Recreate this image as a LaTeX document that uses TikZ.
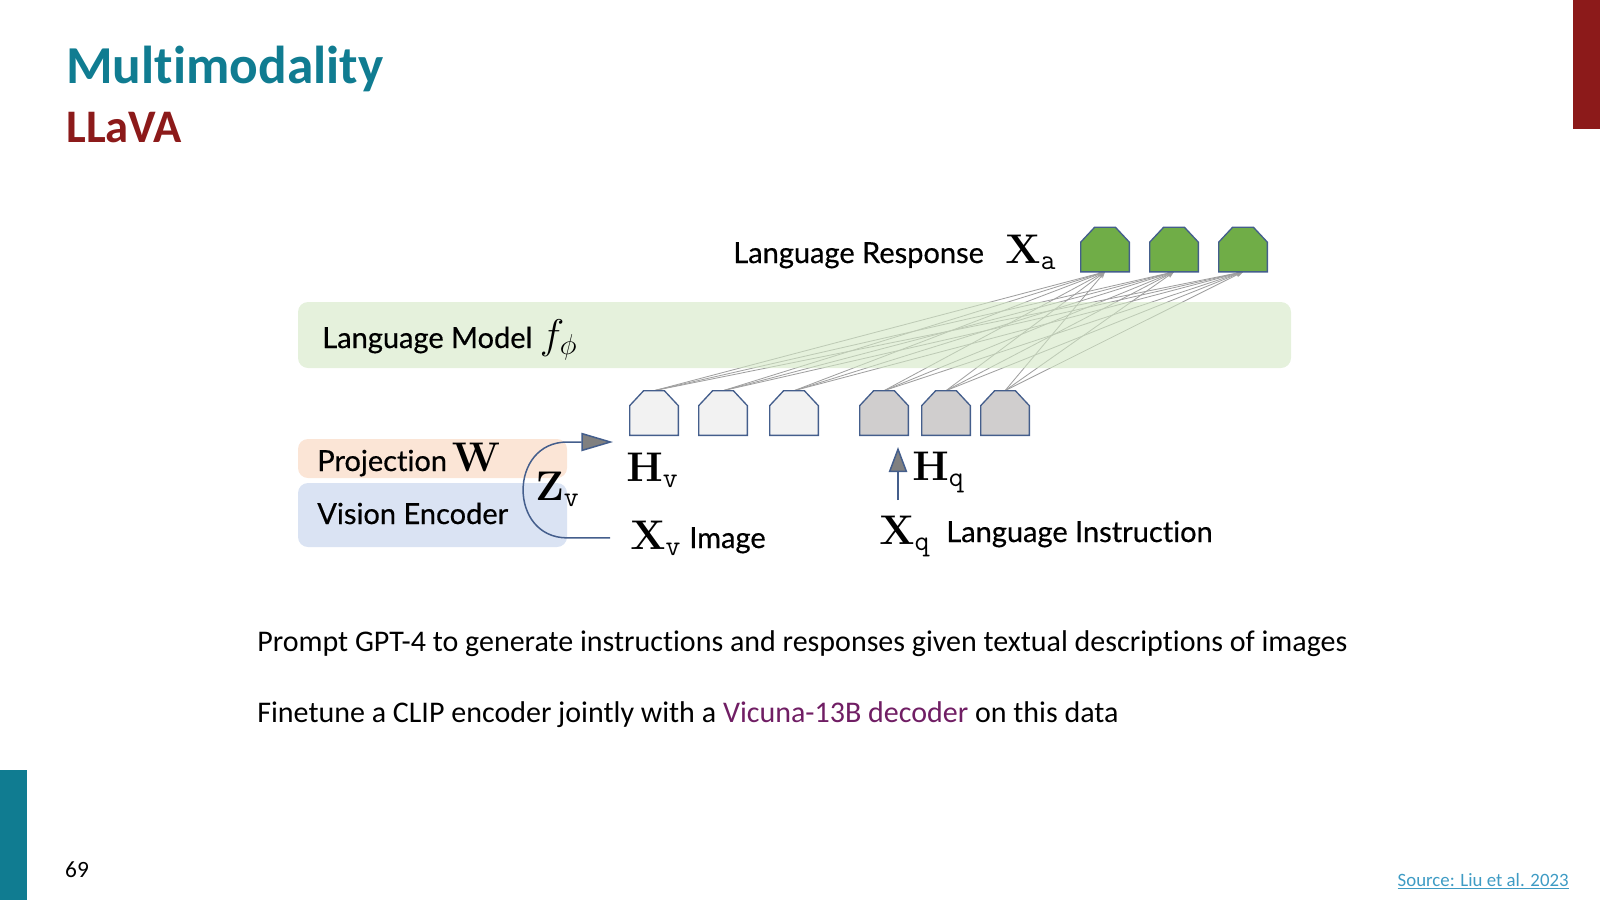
\documentclass[tikz,border=0pt]{standalone}
\usepackage[no-math]{fontspec}
\usepackage{amsmath}
\setmainfont[Ligatures=NoCommon]{Carlito}
\newfontfamily\diagfont[Ligatures=NoCommon, BoldFont=*, BoldFeatures={FakeBold=0.5}]{Lato}
\usetikzlibrary{arrows.meta, positioning, backgrounds}
\definecolor{titleteal}{RGB}{16,124,145}
\definecolor{titlered}{RGB}{140,26,26}
\definecolor{tokedge}{RGB}{68,94,140}
\definecolor{imgfill}{RGB}{242,242,242}
\definecolor{insfill}{RGB}{208,206,206}
\definecolor{resfill}{RGB}{112,173,71}
\definecolor{lmfill}{RGB}{211,232,197}
\definecolor{projfill}{RGB}{251,229,214}
\definecolor{encfill}{RGB}{218,227,243}
\definecolor{vicuna}{RGB}{112,30,100}
\definecolor{srcblue}{RGB}{62,155,196}
\newcommand{\housetok}[2]{% #1=node name #2=fill
  \filldraw[draw=tokedge, fill=#2, line width=0.8pt]
    (#1.south west) -- ([yshift=-9pt]#1.north west) -- ([xshift=8.4pt]#1.north west)
    -- ([xshift=-8.4pt]#1.north east) -- ([yshift=-9pt]#1.north east)
    -- (#1.south east) -- cycle;}

\begin{document}
\begin{tikzpicture}[
  x=0.6pt, y=-0.6pt, >=Stealth,
  tok/.style={minimum width=28.8pt, minimum height=26.4pt, inner sep=0pt},
  dtext/.style={font=\diagfont\bfseries\fontsize{17.4}{21}\selectfont, inner sep=0pt, anchor=base west},
  mathlbl/.style={font=\fontsize{23}{27}\selectfont, inner sep=0pt, anchor=base west},
  attn/.style={-{Stealth[length=4pt,width=3pt]}, gray!75, line width=0.5pt},
  feed/.style={draw=tokedge, line width=0.9pt},
  panel/.style={rounded corners=6pt, inner sep=0pt},
  body/.style={font=\fontsize{18}{22}\selectfont, anchor=base west, inner sep=0pt},
]
\useasboundingbox (0,0) rectangle (1600,900);

% ---------- SLIDE FRAME ----------
\fill[titlered] (1573,0) rectangle (1600,129);
\fill[titleteal] (0,770) rectangle (27,900);
\node[font=\bfseries\fontsize{32}{36}\selectfont, text=titleteal, anchor=base west, inner sep=0pt]
  (title) at (66,83) {Multimodality};
\node[font=\bfseries\fontsize{28}{32}\selectfont, text=titlered, anchor=base west, inner sep=0pt]
  (subtitle) at (66,142) {LLaVA};
\node[font=\fontsize{14}{16}\selectfont, inner sep=0pt] (pagenum) at (77,870) {69};
\node[font=\fontsize{11.3}{13}\selectfont, text=srcblue, anchor=base east, inner sep=0pt]
  (source) at (1569,886) {\underline{Source: Liu et al. 2023}};

% ---------- TOKENS ----------
\foreach \n/\cx in {img1/654,img2/723,img3/794}
  \node[tok] (\n) at (\cx,413) {};
\foreach \n/\cx in {ins1/884,ins2/946,ins3/1005}
  \node[tok] (\n) at (\cx,413) {};
\foreach \n/\cx in {res1/1105,res2/1174,res3/1243}
  \node[tok] (\n) at (\cx,249.5) {};

% ---------- ATTENTION LINES ----------
\foreach \s in {img1,img2,img3,ins1,ins2,ins3}
  \foreach \t in {res1,res2,res3}
    \draw[attn] (\s.north) -- (\t.south);

% ---------- LANGUAGE MODEL ----------
\node[panel, fill=lmfill, fill opacity=0.6, minimum width=595.8pt, minimum height=39.6pt]
  (lm) at (794.5,335) {};
\node[dtext] (lmlabel) at (322,348) {Language Model \fontsize{23}{27}\selectfont$f_{\phi}$};

\foreach \n in {img1,img2,img3} {\housetok{\n}{imgfill}}
\foreach \n in {ins1,ins2,ins3} {\housetok{\n}{insfill}}
\foreach \n in {res1,res2,res3} {\housetok{\n}{resfill}}

\node[dtext] (resplabel) at (733,263) {Language Response};
\node[mathlbl] (xa) at (1005,263) {$\mathbf{X}_{\mathtt{a}}$};

% ---------- VISION SIDE ----------
\node[panel, fill=projfill, minimum width=161.4pt, minimum height=23.4pt] (proj) at (432.5,458.5) {};
\node[panel, fill=encfill, minimum width=161.4pt, minimum height=38.4pt] (venc) at (432.5,515) {};
\node[dtext] (projlabel) at (317,471) {Projection\,\fontsize{23}{27}\selectfont$\mathbf{W}$};
\node[dtext] (enclabel) at (317,524) {Vision Encoder};
\node[mathlbl] (zv) at (535,500) {$\mathbf{Z}_{\mathtt{v}}$};
\node[mathlbl] (hv) at (626,481) {$\mathbf{H}_{\mathtt{v}}$};
\node[mathlbl] (xv) at (630,549) {$\mathbf{X}_{\mathtt{v}}$};
\node[dtext] (imglabel) at (689,548) {Image};

\coordinate (hvin) at (613,442);
\draw[feed, -{Triangle[length=19pt,width=11pt,fill=gray]}]
  ([xshift=-12pt]xv.west) -- (xv.west -| venc.east)
  .. controls +(-59,0) and +(-59,0) .. (hvin -| venc.east) -- (hvin);

% ---------- INSTRUCTION SIDE ----------
\node[mathlbl, inner ysep=9pt] (xq) at (879,544) {$\mathbf{X}_{\mathtt{q}}$};
\node[dtext] (inslabel) at (946,542) {Language Instruction};
\node[mathlbl] (hq) at (912,480) {$\mathbf{H}_{\mathtt{q}}$};
\coordinate (hqin) at (898,447);
\draw[feed, -{Triangle[length=15pt,width=11pt,fill=gray]}] (xq.north -| hqin) -- (hqin);

% ---------- NOTES ----------
\node[body] (note1) at (257,651)
  {Prompt GPT-4 to generate instructions and responses given textual descriptions of images};
\node[body] (note2) at (257,722)
  {Finetune a CLIP encoder jointly with a \textcolor{vicuna}{Vicuna-13B decoder} on this data};

\end{tikzpicture}
\end{document}
